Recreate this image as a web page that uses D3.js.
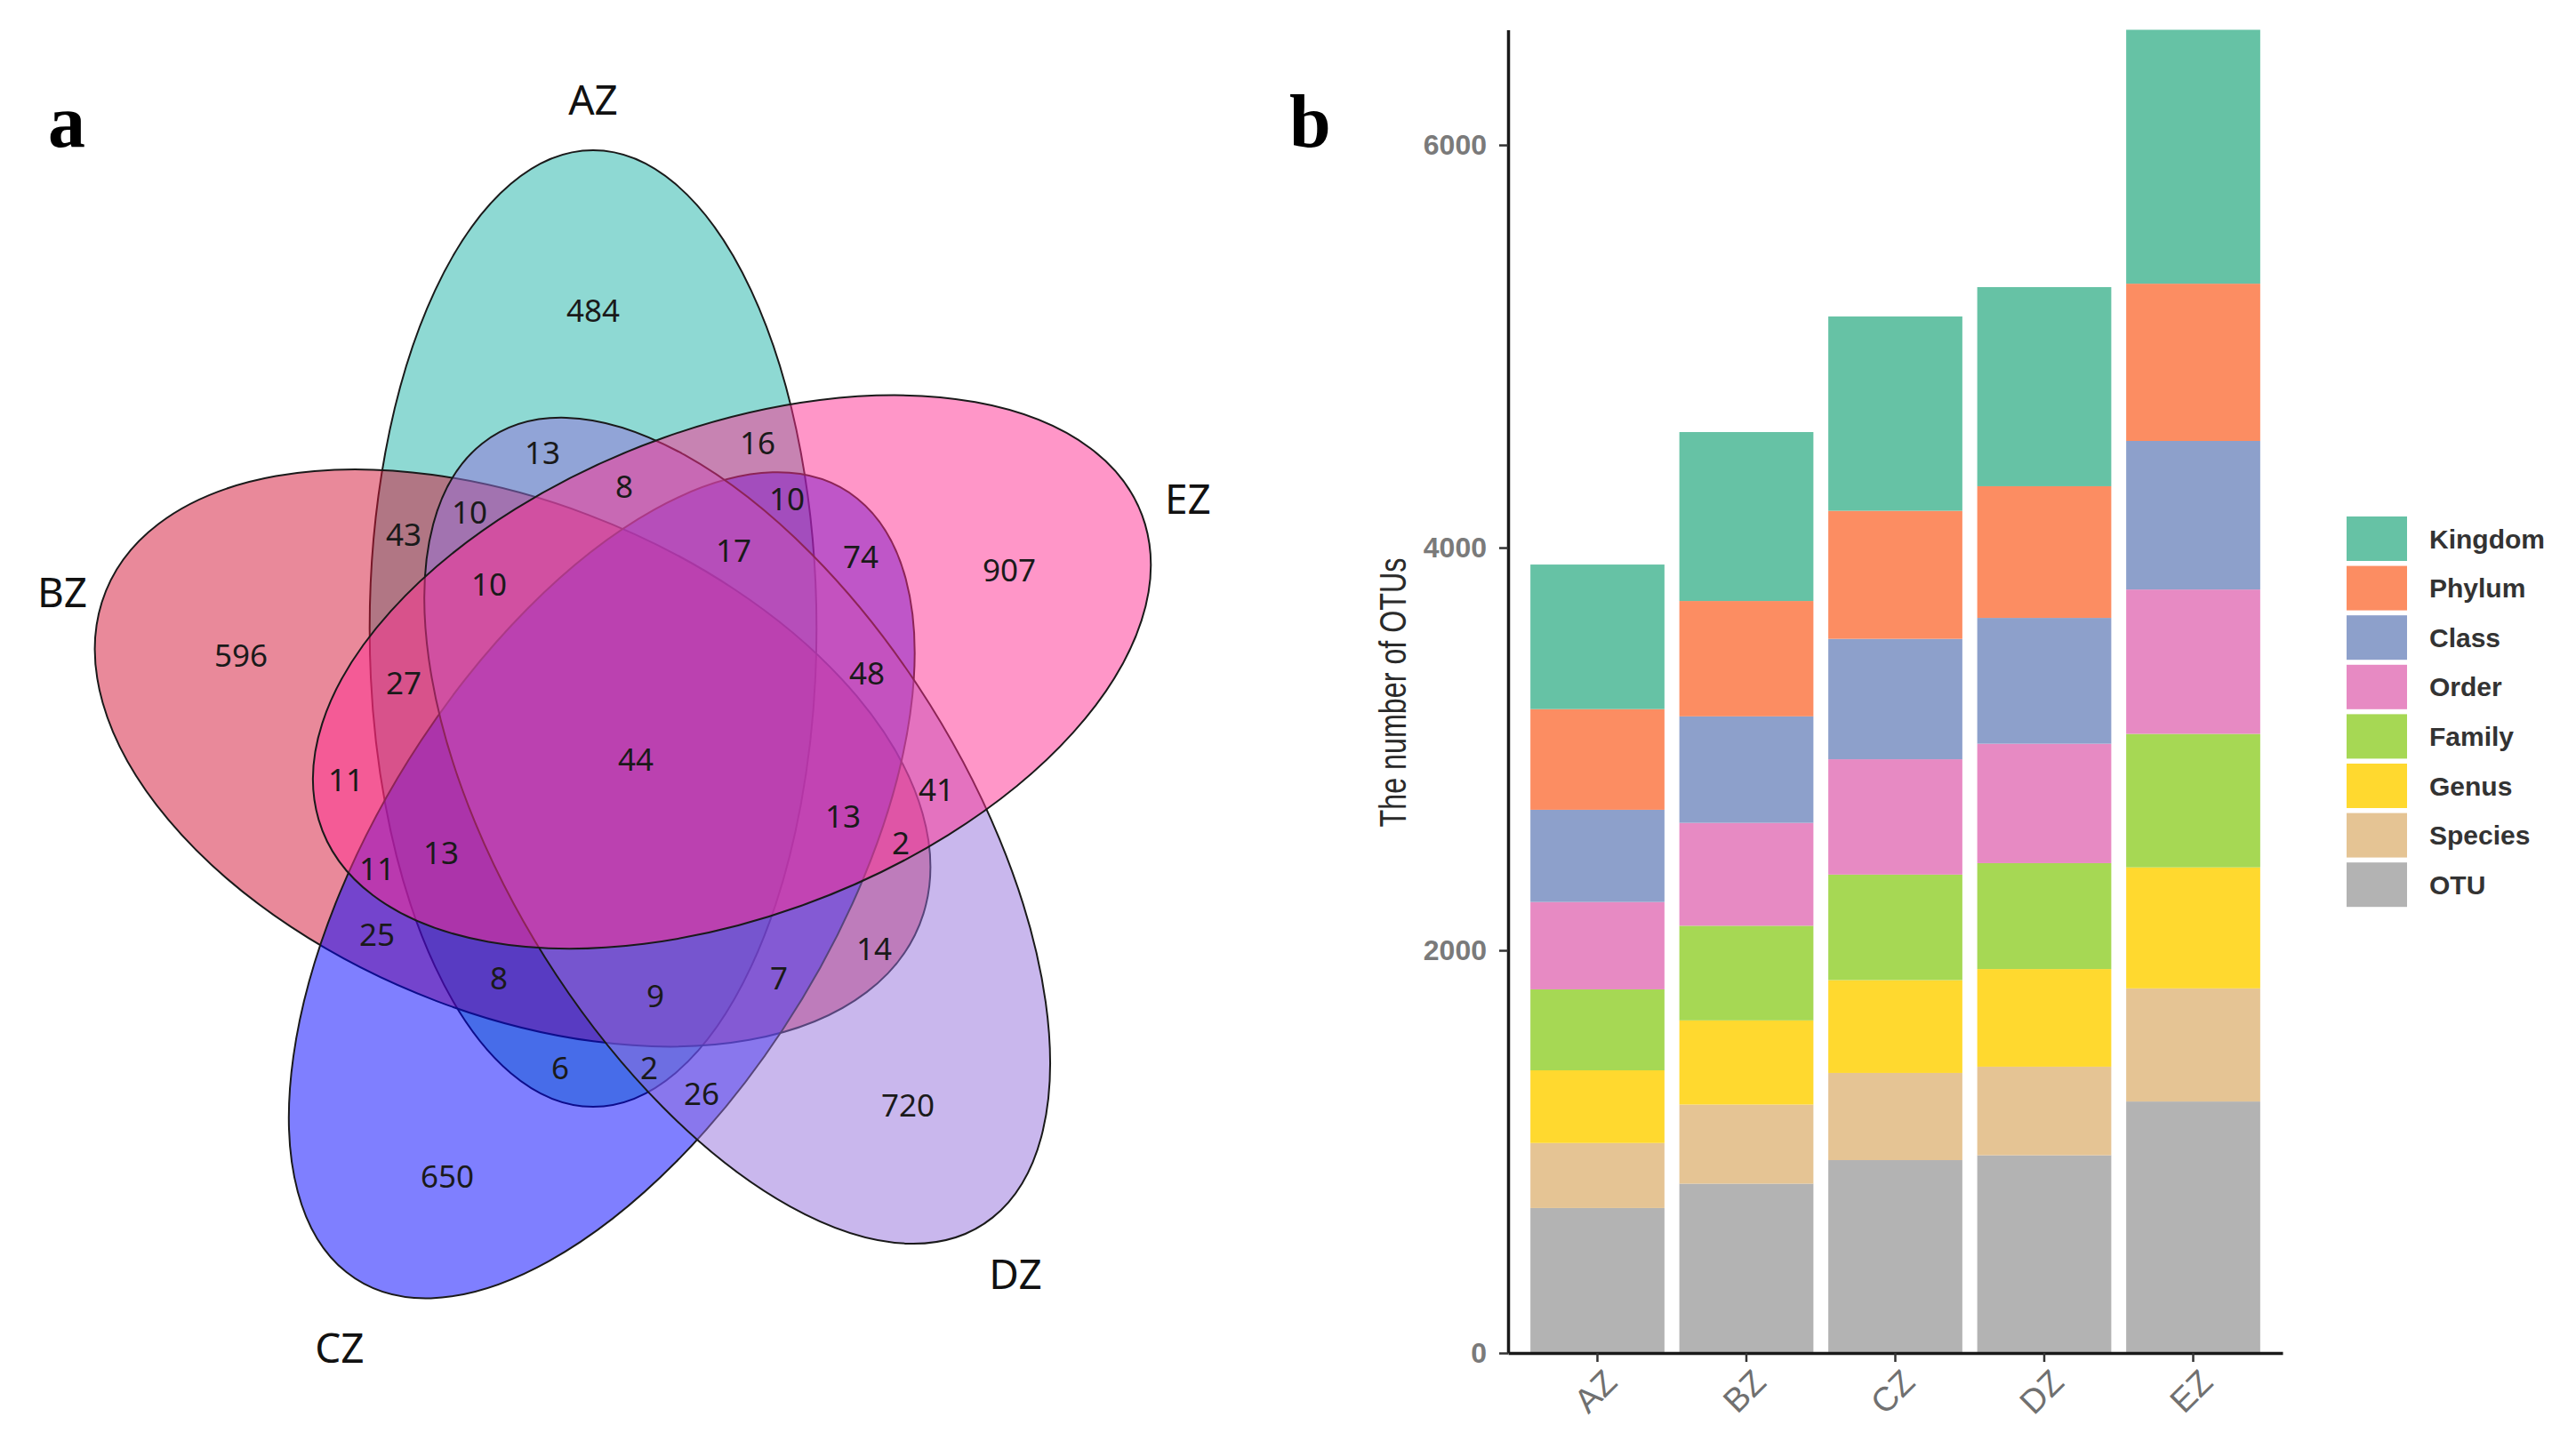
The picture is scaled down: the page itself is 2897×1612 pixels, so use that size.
<!DOCTYPE html>
<html>
<head>
<meta charset="utf-8">
<script src="https://cdn.jsdelivr.net/npm/d3@7"></script>
<style>
  body { margin: 0; background: #fff; }
</style>
</head>
<body>
<div id="chart"></div>
<script>
// ---- data: venn (a) ----
var sets = ["AZ", "BZ", "CZ", "DZ", "EZ"];
var setColors = ["#1DB3A7", "#D31335", "#0000FF", "#9370DB", "#FF2D91"];
var regionCounts = [484, 13, 8, 16, 10, 10, 43, 10, 17, 74, 907, 596, 27, 48, 44, 11,
  41, 13, 2, 13, 11, 25, 14, 8, 9, 7, 6, 2, 26, 720, 650];

// ---- data: stacked bars (b) ----
var samples = ["AZ", "BZ", "CZ", "DZ", "EZ"];
var levels = ["OTU", "Species", "Genus", "Family", "Order", "Class", "Phylum", "Kingdom"];
var otuCounts = [720, 841, 958, 982, 1249];
var speciesCounts = [323, 393, 433, 440, 562];
var genusCounts = [361, 418, 461, 485, 601];
var familyCounts = [402, 470, 524, 526, 663];
var orderCounts = [434, 511, 573, 593, 717];
var classCounts = [458, 529, 598, 625, 738];
var phylumCounts = [500, 573, 636, 654, 781];
var kingdomCounts = [718, 839, 965, 989, 1261];
var levelColors = ["#B3B3B3", "#E5C494", "#FFD92F", "#A6D854", "#E78AC3", "#8DA0CB", "#FC8D62", "#66C2A5"];
var yTicks = [0, 2000, 4000, 6000];

// ---- layout ----
var W = 2897, H = 1612;
var vennGeom = {cx: 714.5, cy: 849.7, sy: 1.101, a: 488.6, b: 251.3, dx: -47.5, dy: -129.6};
var setAngles = [0, 289, 216, 144, 72];
var setMinorScale = [1, 1.045, 1, 1, 1];
var setLabelPos = [[667, 111], [70, 665], [382, 1515], [1142, 1432], [1336, 560]];
var regionPos = [[667, 348], [610, 508], [702, 546], [852, 497], [885, 560], [528, 575],
  [454, 600], [550, 656], [825, 618], [968, 625], [1135, 640], [271, 736], [454, 767],
  [975, 756], [715, 853], [389, 876], [1053, 887], [948, 917], [1013, 947], [496, 958],
  [424, 976], [424, 1050], [983, 1066], [561, 1099], [737, 1119], [876, 1099], [630, 1200],
  [730, 1200], [789, 1229], [1021, 1242], [503, 1322]];

var svg = d3.select("#chart").append("svg")
  .attr("width", W)
  .attr("height", H)
  .style("display", "block");

// panel letters
svg.append("text").attr("x", 54).attr("y", 165).text("a")
  .attr("font-family", "Liberation Serif, Times New Roman, serif")
  .attr("font-weight", "bold").attr("font-size", 84);
svg.append("text").attr("x", 1450).attr("y", 165).text("b")
  .attr("font-family", "Liberation Serif, Times New Roman, serif")
  .attr("font-weight", "bold").attr("font-size", 84);

// ---- venn ----
var gV = svg.append("g")
  .attr("transform", "translate(" + vennGeom.cx + "," + vennGeom.cy + ") scale(1," + vennGeom.sy + ")");

gV.selectAll("ellipse")
  .data(sets)
  .join("ellipse")
  .attr("transform", function(d, i) {
    return "rotate(" + setAngles[i] + ") translate(" + vennGeom.dx + "," + vennGeom.dy + ")";
  })
  .attr("rx", function(d, i) { return vennGeom.b * setMinorScale[i]; })
  .attr("ry", vennGeom.a)
  .attr("fill", function(d, i) { return setColors[i]; })
  .attr("fill-opacity", 0.5)
  .attr("stroke", "#1a1a1a")
  .attr("stroke-width", 2)
  .attr("vector-effect", "non-scaling-stroke");

svg.append("g").selectAll("text")
  .data(regionCounts)
  .join("text")
  .attr("x", function(d, i) { return regionPos[i][0]; })
  .attr("y", function(d, i) { return regionPos[i][1]; })
  .attr("text-anchor", "middle")
  .attr("dominant-baseline", "central")
  .attr("font-family", "Noto Sans, DejaVu Sans, sans-serif")
  .attr("font-size", 35)
  .attr("fill", "#1a1a1a")
  .text(function(d) { return d; });

svg.append("g").selectAll("text")
  .data(sets)
  .join("text")
  .attr("x", function(d, i) { return setLabelPos[i][0]; })
  .attr("y", function(d, i) { return setLabelPos[i][1]; })
  .attr("text-anchor", "middle")
  .attr("dominant-baseline", "central")
  .attr("font-family", "Noto Sans, DejaVu Sans, sans-serif")
  .attr("font-size", 46)
  .attr("fill", "#111")
  .text(function(d) { return d; });

// ---- stacked bars ----
var levelData = [otuCounts, speciesCounts, genusCounts, familyCounts, orderCounts, classCounts, phylumCounts, kingdomCounts];
var table = samples.map(function(s, i) {
  var row = {sample: s};
  levels.forEach(function(l, j) { row[l] = levelData[j][i]; });
  return row;
});
var totals = table.map(function(r) { return d3.sum(levels, function(l) { return r[l]; }); });

var x = d3.scaleBand().domain(samples).range([1696, 2567]).paddingInner(0.1).paddingOuter(0.15);
var y = d3.scaleLinear().domain([0, d3.max(totals)]).range([1522, 33.5]);
var color = d3.scaleOrdinal().domain(levels).range(levelColors);

var series = d3.stack().keys(levels)(table);

svg.append("g").selectAll("g")
  .data(series)
  .join("g")
  .attr("fill", function(d) { return color(d.key); })
  .selectAll("rect")
  .data(function(d) { return d; })
  .join("rect")
  .attr("x", function(d) { return x(d.data.sample); })
  .attr("width", x.bandwidth())
  .attr("y", function(d) { return y(d[1]); })
  .attr("height", function(d) { return y(d[0]) - y(d[1]); });

var yAxis = svg.append("g")
  .attr("transform", "translate(1696,0)")
  .call(d3.axisLeft(y).tickValues(yTicks).tickFormat(d3.format("d"))
    .tickSize(10).tickPadding(14).tickSizeOuter(0));
var xAxis = svg.append("g")
  .attr("transform", "translate(0,1522)")
  .call(d3.axisBottom(x).tickSize(10).tickSizeOuter(0));

[yAxis, xAxis].forEach(function(ax) {
  ax.select(".domain").attr("stroke", "#1a1a1a").attr("stroke-width", 3.5);
  ax.selectAll(".tick line").attr("stroke", "#333").attr("stroke-width", 2.5);
  ax.selectAll(".tick text")
    .attr("font-family", "Liberation Sans, Arial, sans-serif")
    .attr("fill", "#707070");
});
yAxis.selectAll(".tick text").attr("font-size", 32).attr("font-weight", "bold").attr("fill", "#7a7a7a");

xAxis.selectAll(".tick text")
  .attr("font-size", 38)
  .attr("y", 0)
  .attr("dy", "0.71em")
  .attr("text-anchor", "end")
  .attr("transform", "translate(5,16) rotate(-45)");

svg.append("text")
  .attr("transform", "translate(1581,779) rotate(-90)")
  .attr("text-anchor", "middle")
  .attr("font-family", "Liberation Sans, Arial, sans-serif")
  .attr("font-size", 42)
  .attr("textLength", 303)
  .attr("lengthAdjust", "spacingAndGlyphs")
  .attr("fill", "#2a2a2a")
  .text("The number of OTUs");

// legend, Kingdom at top
var legendLevels = levels.slice().reverse();
var lg = svg.append("g").attr("transform", "translate(2639,581)");
var li = lg.selectAll("g")
  .data(legendLevels)
  .join("g")
  .attr("transform", function(d, i) { return "translate(0," + (i * 55.6) + ")"; });
li.append("rect")
  .attr("width", 68)
  .attr("height", 50)
  .attr("fill", function(d) { return color(d); });
li.append("text")
  .attr("x", 93)
  .attr("y", 25)
  .attr("dominant-baseline", "central")
  .attr("font-family", "Liberation Sans, Arial, sans-serif")
  .attr("font-weight", "bold")
  .attr("font-size", 30)
  .attr("fill", "#333")
  .text(function(d) { return d; });
</script>
</body>
</html>
